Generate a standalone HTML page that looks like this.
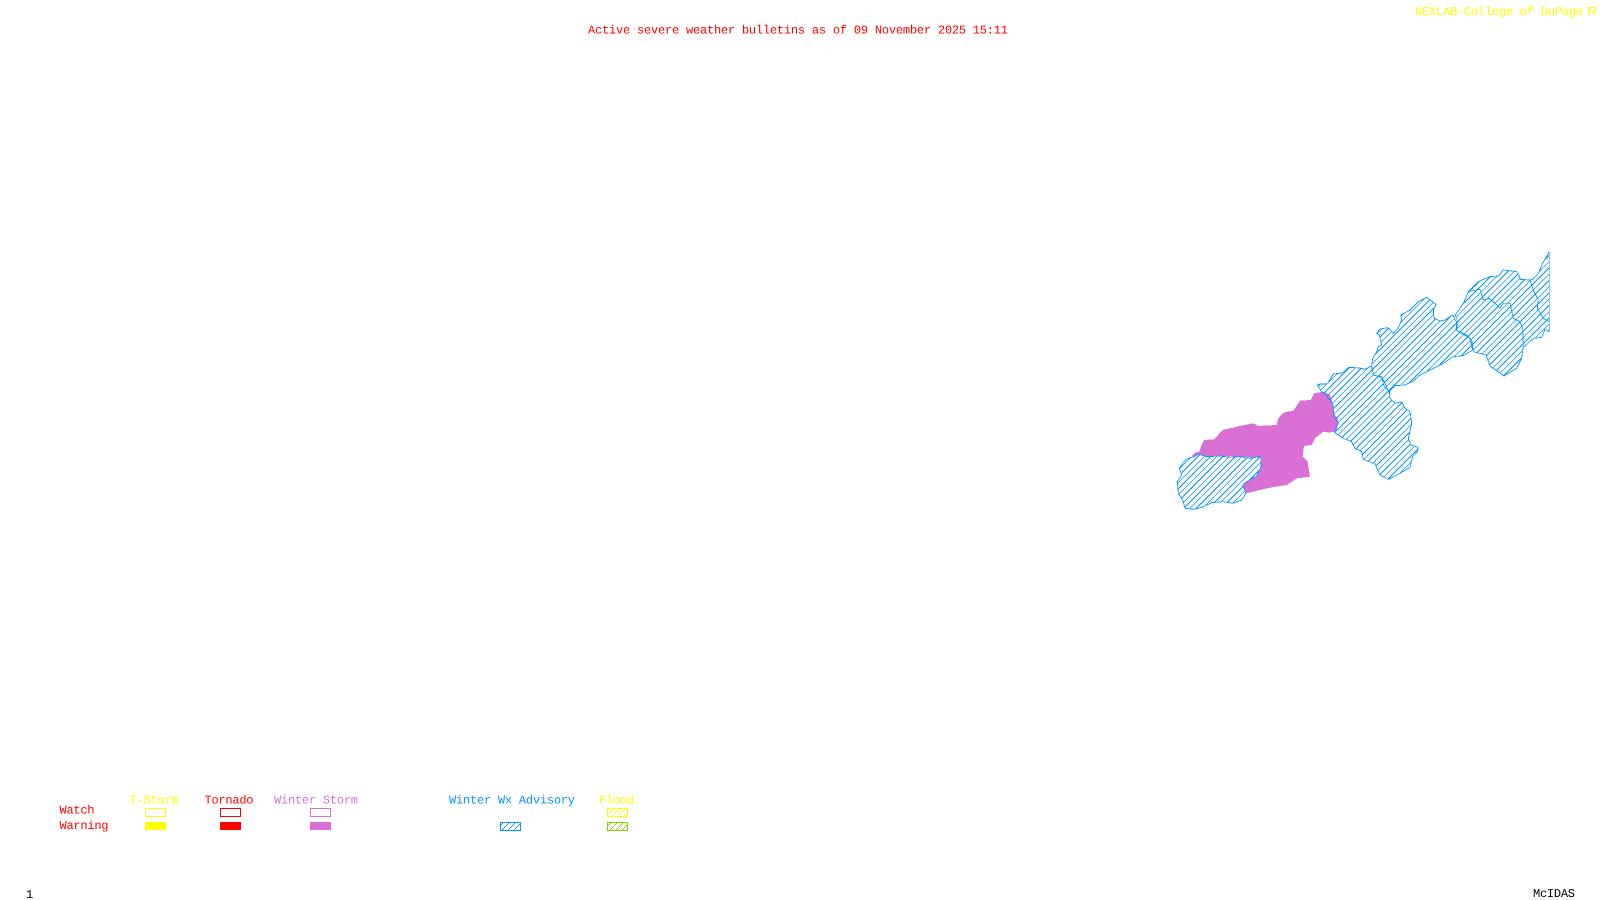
<!DOCTYPE html>
<html>
<head>
<meta charset="utf-8">
<title>Active severe weather bulletins</title>
<style>
html,body{margin:0;padding:0;background:#fff;width:1600px;height:900px;overflow:hidden}
svg{display:block}
text{font-family:"Liberation Mono",monospace;font-size:12px;text-rendering:geometricPrecision}
.o{fill:none;stroke:#0096ff;stroke-width:2.5;vector-effect:non-scaling-stroke;shape-rendering:crispEdges;stroke-linejoin:round}
</style>
</head>
<body>
<svg width="1600" height="900" viewBox="0 0 1600 900" xmlns="http://www.w3.org/2000/svg">
<defs>
<pattern id="hb" patternUnits="userSpaceOnUse" width="6" height="6"><g fill="#0096ff" shape-rendering="crispEdges"><rect x="0" y="5" width="1" height="1"/><rect x="1" y="4" width="1" height="1"/><rect x="2" y="3" width="1" height="1"/><rect x="3" y="2" width="1" height="1"/><rect x="4" y="1" width="1" height="1"/><rect x="5" y="0" width="1" height="1"/></g></pattern>
<pattern id="hy" patternUnits="userSpaceOnUse" width="6" height="6"><g fill="#ffff00" shape-rendering="crispEdges"><rect x="0" y="5" width="1" height="1"/><rect x="1" y="4" width="1" height="1"/><rect x="2" y="3" width="1" height="1"/><rect x="3" y="2" width="1" height="1"/><rect x="4" y="1" width="1" height="1"/><rect x="5" y="0" width="1" height="1"/></g></pattern>
<pattern id="hg" patternUnits="userSpaceOnUse" width="6" height="6"><g fill="#80d800" shape-rendering="crispEdges"><rect x="0" y="5" width="1" height="1"/><rect x="1" y="4" width="1" height="1"/><rect x="2" y="3" width="1" height="1"/><rect x="3" y="2" width="1" height="1"/><rect x="4" y="1" width="1" height="1"/><rect x="5" y="0" width="1" height="1"/></g></pattern>

<polygon id="sw" transform="translate(1140,350) scale(.33333)" points="175,312 200,320 240,318 270,322 300,320 328,325 362,320 363,350 350,378 320,395 308,405 318,430 305,450 280,460 250,455 215,458 190,470 165,478 135,475 128,450 115,430 112,395 125,375 118,355 138,328 155,322 160,322"/>
<polygon id="mid" transform="translate(1310,360) scale(.33333)" points="22,75 30,72 52,72 70,42 100,38 115,22 150,24 165,28 185,18 190,45 215,52 222,78 238,95 240,115 255,130 275,125 285,145 300,155 305,190 295,235 302,255 325,262 322,275 308,290 300,322 270,340 235,358 210,345 195,312 160,298 155,275 135,265 125,245 100,235 80,222 72,215 85,190 72,170 68,130 55,115 50,105 35,95"/>
<polygon id="ne" transform="translate(1330,235) scale(.33333)" points="128,370 140,350 145,335 155,330 148,300 140,296 150,282 175,278 190,295 205,278 215,255 212,240 240,225 265,200 290,187 318,208 310,225 312,250 330,258 345,255 368,240 380,262 378,285 395,295 420,310 428,345 400,362 370,365 340,385 300,405 270,420 250,438 225,450 195,452 177,471 165,445 155,425 130,420 125,392"/>
<polygon id="la" transform="translate(1450,240) scale(.33333)" points="15,225 30,205 40,190 55,155 90,148 100,180 118,175 135,190 150,205 160,190 180,190 190,235 210,245 218,265 220,320 215,355 200,385 162,408 120,378 108,345 70,335 65,300 50,285 20,272 22,240"/>
<polygon id="lb" transform="translate(1450,240) scale(.33333)" points="55,155 85,125 120,110 145,108 160,90 200,95 212,118 240,120 250,150 265,180 262,205 280,235 298,245 298,275 285,268 275,292 250,295 225,318 220,320 218,265 210,245 190,235 180,190 160,190 150,205 135,190 118,175 100,180 90,148"/>
<polygon id="lc" transform="translate(1450,240) scale(.33333)" points="240,120 248,118 265,100 278,70 298,35 298,245 280,235 262,205 265,180 250,150"/>
<clipPath id="cl">
<use href="#sw"/><use href="#mid"/><use href="#ne"/><use href="#la"/><use href="#lb"/><use href="#lc"/>
</clipPath>
</defs>

<rect width="1600" height="900" fill="#fff"/>

<polygon transform="translate(1140,350) scale(.33333)" fill="#da70d6" shape-rendering="crispEdges" points="155,318 165,308 178,305 185,285 192,270 222,268 248,240 300,228 340,220 355,228 410,225 415,205 430,188 460,182 480,152 512,150 522,130 550,125 570,135 578,160 582,190 595,212 590,240 570,248 550,245 525,265 515,285 492,288 488,320 503,335 510,380 470,385 440,405 395,412 318,430 308,405 320,395 350,378 362,350 362,322 325,322 300,320 240,318 200,320 175,312 160,322"/>

<g clip-path="url(#cl)">
<line x1="1205" y1="205" x2="1536" y2="536" stroke="#0096ff" stroke-width="800" stroke-dasharray="0.95 3.47" shape-rendering="crispEdges"/>
</g>
<use href="#sw" class="o"/>
<use href="#mid" class="o"/>
<use href="#ne" class="o"/>
<use href="#la" class="o"/>
<use href="#lb" class="o"/>
<use href="#lc" class="o"/>

<text x="588" y="33.500" fill="#ff0000" textLength="420" lengthAdjust="spacing">Active severe weather bulletins as of 09 November 2025 15:11</text>
<text x="1415" y="15" fill="#ffff00" textLength="168" lengthAdjust="spacing">NEXLAB-College of DuPage</text>
<g fill="none" stroke="#ffff00" stroke-width="1" shape-rendering="crispEdges">
<path d="M1588.5 15.5V7.5H1595.5M1588.5 7.5L1595.5 15M1592 11.5H1595.5V8"/>
</g>

<text x="129.500" y="803.500" fill="#ffff00" textLength="49" lengthAdjust="spacing">T-Storm</text>
<text x="204.500" y="803.500" fill="#ff0000" textLength="49" lengthAdjust="spacing">Tornado</text>
<text x="274" y="803.500" fill="#da70d6" textLength="84" lengthAdjust="spacing">Winter Storm</text>
<text x="449" y="803.500" fill="#0096ff" textLength="126" lengthAdjust="spacing">Winter Wx Advisory</text>
<text x="599" y="803.500" fill="#ffff00" textLength="35" lengthAdjust="spacing">Flood</text>
<text x="59.500" y="813.500" fill="#ff0000" textLength="35" lengthAdjust="spacing">Watch</text>
<text x="59.500" y="829" fill="#ff0000" textLength="49" lengthAdjust="spacing">Warning</text>

<g shape-rendering="crispEdges" stroke-width="1">
<rect x="145.500" y="808.500" width="20" height="8" fill="none" stroke="#ffff00"/>
<rect x="145" y="822" width="21" height="8" fill="#ffff00"/>
<rect x="220.500" y="808.500" width="20" height="8" fill="none" stroke="#ff0000"/>
<rect x="220" y="822" width="21" height="8" fill="#ff0000"/>
<rect x="310.500" y="808.500" width="20" height="8" fill="none" stroke="#da70d6"/>
<rect x="310" y="822" width="21" height="8" fill="#da70d6"/>
<rect x="500.500" y="822.500" width="20" height="8" fill="url(#hb)" stroke="#0096ff"/>
<rect x="607.500" y="808.500" width="20" height="8" fill="url(#hy)" stroke="#ffff00"/>
<rect x="607.500" y="822.500" width="20" height="8" fill="url(#hg)" stroke="#80d800"/>
</g>

<text x="1533" y="897" fill="#000000" textLength="42" lengthAdjust="spacing">McIDAS</text>
<text x="26" y="898" fill="#000000">1</text>
</svg>
</body>
</html>
